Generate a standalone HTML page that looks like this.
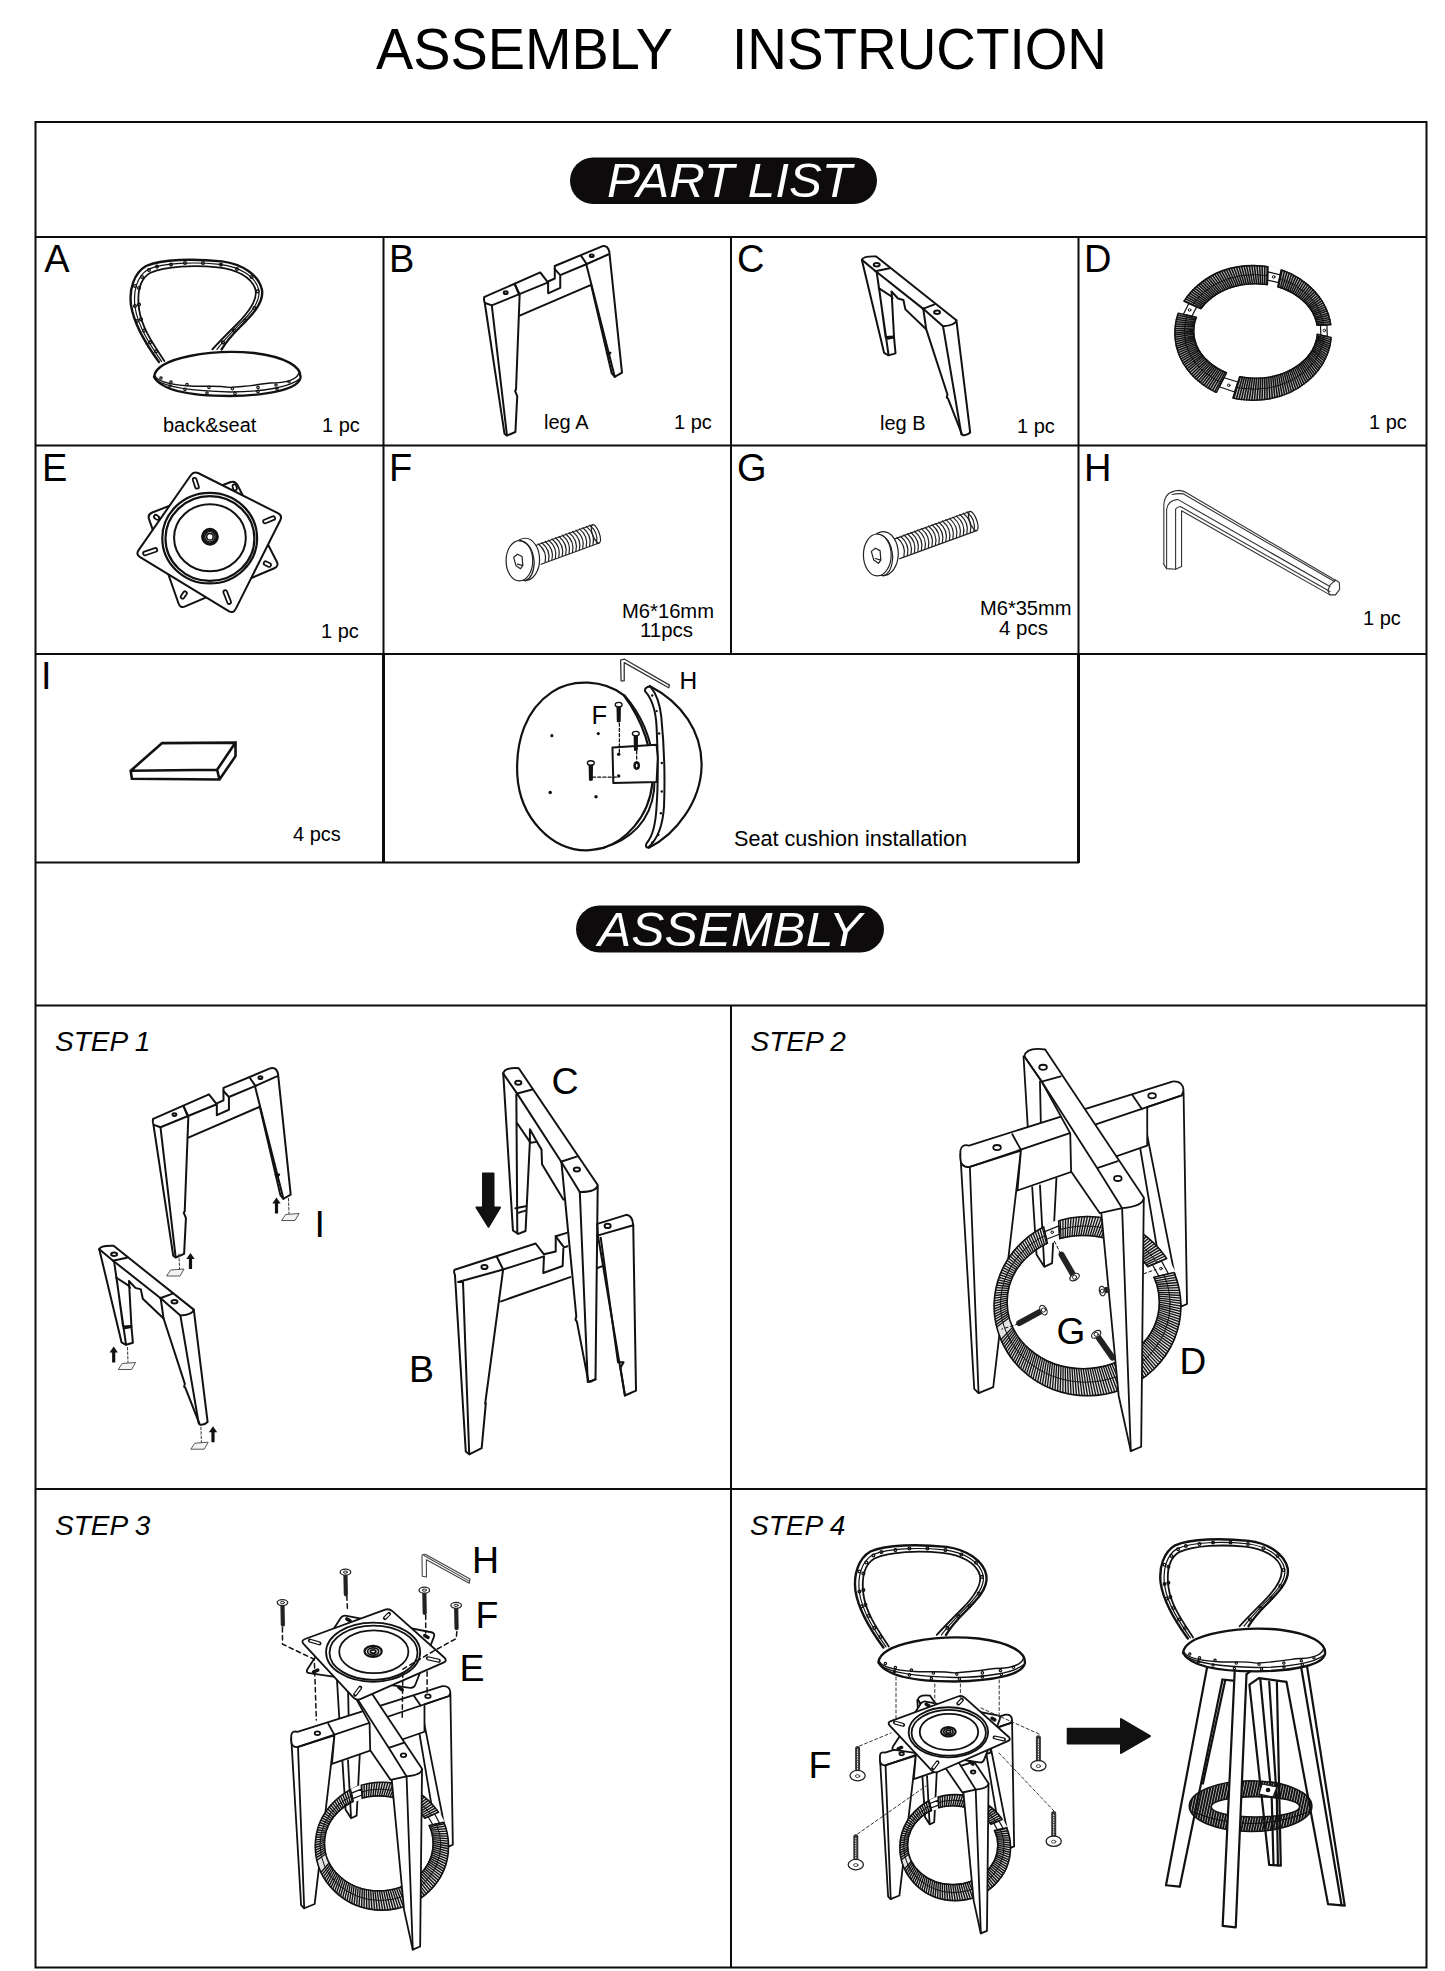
<!DOCTYPE html>
<html><head><meta charset="utf-8"><title>Assembly Instruction</title>
<style>
html,body{margin:0;padding:0;background:#fff;}
body{width:1445px;height:1971px;overflow:hidden;position:relative;}
svg{position:absolute;left:0;top:0;}
text{font-family:"Liberation Sans",sans-serif;fill:#000;}
.it{font-style:italic;}
.ln{stroke:#111;fill:none;stroke-linejoin:round;stroke-linecap:round;}
.ln *{vector-effect:non-scaling-stroke;}
</style></head>
<body>
<svg width="1445" height="1971" viewBox="0 0 1445 1971">
<!-- GRID -->
<g id="grid" stroke="#0d0b0c" stroke-width="2" fill="none">
<rect x="35.5" y="122" width="1391" height="1845.5"/>
<line x1="35" y1="237" x2="1427" y2="237"/>
<line x1="35" y1="445.5" x2="1427" y2="445.5"/>
<line x1="35" y1="654" x2="1427" y2="654"/>
<line x1="35" y1="862.5" x2="1079" y2="862.5"/>
<line x1="35" y1="1005.5" x2="1427" y2="1005.5"/>
<line x1="35" y1="1489" x2="1427" y2="1489"/>
<line x1="383.5" y1="237" x2="383.5" y2="654"/>
<line x1="383.5" y1="654" x2="383.5" y2="863" stroke-width="3"/>
<line x1="731" y1="237" x2="731" y2="654"/>
<line x1="1078.5" y1="237" x2="1078.5" y2="654"/>
<line x1="1078.5" y1="654" x2="1078.5" y2="863" stroke-width="3"/>
<line x1="731" y1="1005" x2="731" y2="1968"/>
</g>

<!-- TITLE -->
<text x="376" y="68.5" font-size="57.5" textLength="297" lengthAdjust="spacingAndGlyphs">ASSEMBLY</text>
<text x="732" y="68.5" font-size="57.5" textLength="375" lengthAdjust="spacingAndGlyphs">INSTRUCTION</text>

<!-- PILLS -->
<rect x="570" y="157.5" width="307" height="46.5" rx="23.25" fill="#0d0b0b"/>
<text class="it" x="607" y="197" font-size="48" fill="#fff" style="fill:#fff" textLength="245" lengthAdjust="spacingAndGlyphs">PART LIST</text>
<rect x="576" y="905.5" width="308" height="47" rx="23.5" fill="#0d0b0b"/>
<text class="it" x="598" y="945.5" font-size="48" style="fill:#fff" textLength="264" lengthAdjust="spacingAndGlyphs">ASSEMBLY</text>

<!-- PART LETTERS -->
<g font-size="38">
<text x="44.3" y="271.5">A</text>
<text x="389" y="271.5">B</text>
<text x="737" y="271.5">C</text>
<text x="1084" y="271.5">D</text>
<text x="42" y="480.5">E</text>
<text x="389" y="480.5">F</text>
<text x="737" y="480.5">G</text>
<text x="1084" y="480.5">H</text>
<text x="41" y="689">I</text>
</g>
<!-- PART CAPTIONS -->
<g font-size="20">
<text x="163" y="432">back&amp;seat</text>
<text x="322" y="432">1 pc</text>
<text x="544" y="428.5">leg A</text>
<text x="674" y="429">1 pc</text>
<text x="880" y="429.5">leg B</text>
<text x="1017" y="433">1 pc</text>
<text x="1369" y="429">1 pc</text>
<text x="321" y="638">1 pc</text>
<text x="1363" y="625">1 pc</text>
<text x="293" y="840.5">4 pcs</text>
<text x="622" y="618" textLength="92" lengthAdjust="spacingAndGlyphs">M6*16mm</text>
<text x="640" y="637" textLength="53" lengthAdjust="spacingAndGlyphs">11pcs</text>
<text x="980" y="615" textLength="91.5" lengthAdjust="spacingAndGlyphs">M6*35mm</text>
<text x="999" y="635" textLength="49" lengthAdjust="spacingAndGlyphs">4 pcs</text>
</g>
<text x="734" y="845.5" font-size="21.5" textLength="233" lengthAdjust="spacingAndGlyphs">Seat cushion installation</text>

<!-- STEP LABELS -->
<g class="it" font-size="28">
<text x="55" y="1050.5">STEP 1</text>
<text x="750.5" y="1050.5">STEP 2</text>
<text x="55" y="1535">STEP 3</text>
<text x="750" y="1535">STEP 4</text>
</g>

<!-- DRAWING LABELS -->
<g>
<text x="591.5" y="724" font-size="25.5">F</text>
<text x="679.5" y="688.5" font-size="24.5">H</text>
<text x="551.5" y="1093.5" font-size="37.5">C</text>
<text x="409" y="1381.5" font-size="37.5">B</text>
<text x="314.5" y="1236.5" font-size="37.5">I</text>
<text x="1056.5" y="1344" font-size="37">G</text>
<text x="1179.5" y="1373.5" font-size="37">D</text>
<text x="472" y="1572.5" font-size="37.5">H</text>
<text x="475.5" y="1628" font-size="37.5">F</text>
<text x="459.5" y="1680.5" font-size="37.5">E</text>
<text x="808.5" y="1777.5" font-size="37.5">F</text>
</g>
<!-- DRAWINGS -->
<g id="drawings" class="ln" stroke-width="2">

<g id="legB" transform="translate(850,250) scale(0.09894)">
<path d="M120,100 Q130,60 265,65 L1075,710 Q1070,760 940,770 L1125,1860"/>
<path d="M120,100 L345,1040 L390,1065 L460,1045 L445,880 L420,420 L485,490 L540,505 L560,600 L770,800 L985,1460 L978,1490 L990,1500 L1135,1870 Q1180,1880 1215,1845 L1075,710"/>
<path d="M120,100 L260,215 L740,595 L940,770"/>
<path d="M255,215 L400,185 M735,595 L855,550"/>
<path d="M270,225 L390,1062 M295,390 L360,880 L445,875 M365,900 L445,885"/>
<path d="M740,590 L770,800 M290,385 L420,470 M420,470 L430,490"/>
<ellipse cx="270" cy="150" rx="30" ry="18"/>
<ellipse cx="880" cy="630" rx="30" ry="18"/>
</g>

<g id="seatA" transform="translate(110,245) scale(0.2)">
<path stroke-width="2.4" d="M245,585 C190,510 120,400 105,300 C95,220 120,140 180,105 C260,70 420,68 560,82 C660,95 745,150 760,225 C770,290 710,350 650,410 C610,450 580,485 558,522"/>
<path stroke-width="1.8" d="M272,580 C220,500 160,420 145,320 C135,240 150,170 200,140 C280,105 420,100 540,112 C630,122 710,160 728,225 C738,280 690,340 635,395 C590,440 540,490 512,522"/>
<path stroke-width="1.2" d="M258,582 C205,505 140,410 125,310 C115,230 135,155 190,122 C270,88 420,84 550,97 C645,108 728,155 744,225 C754,285 700,345 642,402 C600,445 560,488 535,522"/>
<g stroke-width="1.3">
<circle cx="160" cy="160" r="7"/><circle cx="195" cy="125" r="7"/><circle cx="235" cy="108" r="7"/><circle cx="305" cy="98" r="7"/><circle cx="375" cy="90" r="7"/><circle cx="465" cy="90" r="7"/><circle cx="555" cy="98" r="7"/><circle cx="635" cy="120" r="7"/><circle cx="708" cy="160" r="7"/><circle cx="738" cy="232" r="7"/><circle cx="722" cy="315" r="7"/><circle cx="675" cy="378" r="7"/><circle cx="620" cy="428" r="7"/><circle cx="565" cy="487" r="7"/>
<circle cx="125" cy="205" r="7"/><circle cx="145" cy="215" r="7"/><circle cx="125" cy="305" r="7"/><circle cx="145" cy="298" r="7"/><circle cx="135" cy="380" r="7"/><circle cx="155" cy="372" r="7"/><circle cx="170" cy="428" r="7"/><circle cx="200" cy="487" r="7"/><circle cx="230" cy="532" r="7"/>
</g>
<path stroke-width="2.4" d="M220,660 C230,560 520,520 720,540 C880,560 960,610 952,665 C940,720 800,752 600,755 C400,755 260,730 220,660 Z"/>
<path stroke-width="1.4" d="M225,655 C240,690 330,700 400,705 C470,710 520,700 600,712 C680,708 730,700 800,690 C870,690 930,680 945,640"/>
<path stroke-width="1.4" d="M230,675 C280,710 400,730 600,735 C760,735 900,710 948,670"/>
<g stroke-width="1.2">
<circle cx="255" cy="665" r="6"/><circle cx="305" cy="685" r="6"/><circle cx="385" cy="698" r="6"/><circle cx="495" cy="712" r="6"/><circle cx="612" cy="718" r="6"/><circle cx="740" cy="712" r="6"/><circle cx="830" cy="700" r="6"/><circle cx="895" cy="684" r="6"/>
<circle cx="300" cy="705" r="6"/><circle cx="375" cy="722" r="6"/><circle cx="485" cy="740" r="6"/><circle cx="625" cy="742" r="6"/><circle cx="740" cy="732" r="6"/><circle cx="835" cy="720" r="6"/>
</g>
</g>

<g id="legA" transform="translate(470,240) scale(0.12111)">
<path d="M120,470 L580,268 L640,345 L700,318 L700,215 L1090,52 Q1135,40 1150,95 L1255,1095 L1195,1130 L960,200 L1140,120"/>
<path d="M120,470 Q110,490 122,520 L285,1600 L305,1615 L375,1585 L390,1290 L372,1245 L380,1235 L410,450 L370,365"/>
<path d="M125,520 L180,540 L305,1612"/>
<path d="M180,540 L645,350 M645,345 L645,440 L745,395 L745,290 L700,240 M745,290 L960,200"/>
<path d="M410,625 L1000,370 L1170,1100 L1195,1130"/>
<path d="M920,135 L965,200 M370,365 L405,450"/>
<path d="M1130,930 L1160,930 L1145,950 Z"/>
<ellipse cx="295" cy="435" rx="16" ry="11"/>
<ellipse cx="1005" cy="130" rx="16" ry="11"/>
</g>
<g>
<path fill="#c4c4c4" fill-rule="evenodd" stroke="none" d="M1174.9,332.9 a78.2,67.3 0 1,0 156.4,0 a78.2,67.3 0 1,0 -156.4,0 Z M1193.7,331.0 a61.9,47.3 0 1,0 123.8,0 a61.9,47.3 0 1,0 -123.8,0 Z"/>
<path stroke="#111" stroke-width="1.5" fill="none" d="M1330.9,339.6 L1317.2,335.7 M1330.6,341.8 L1317.0,337.2 M1330.2,344.0 L1316.7,338.8 M1329.8,346.2 L1316.3,340.3 M1329.2,348.3 L1315.8,341.9 M1328.6,350.5 L1315.3,343.4 M1327.9,352.6 L1314.8,344.9 M1327.1,354.8 L1314.1,346.4 M1326.2,356.8 L1313.4,347.8 M1325.2,358.9 L1312.7,349.3 M1324.2,360.9 L1311.9,350.7 M1323.1,363.0 L1311.0,352.1 M1321.9,364.9 L1310.0,353.5 M1320.6,366.9 L1309.0,354.9 M1319.3,368.8 L1308.0,356.2 M1317.9,370.6 L1306.9,357.5 M1316.4,372.5 L1305.7,358.8 M1314.8,374.2 L1304.4,360.1 M1313.2,376.0 L1303.2,361.3 M1311.5,377.7 L1301.8,362.5 M1309.8,379.3 L1300.4,363.6 M1307.9,380.9 L1299.0,364.7 M1306.1,382.4 L1297.5,365.8 M1304.1,383.9 L1296.0,366.8 M1302.1,385.3 L1294.4,367.8 M1300.1,386.7 L1292.8,368.8 M1298.0,388.0 L1291.2,369.7 M1295.9,389.2 L1289.5,370.6 M1293.7,390.4 L1287.7,371.4 M1291.5,391.6 L1286.0,372.2 M1289.2,392.6 L1284.2,373.0 M1286.9,393.6 L1282.3,373.7 M1284.5,394.5 L1280.5,374.3 M1282.1,395.4 L1278.6,374.9 M1279.7,396.2 L1276.7,375.5 M1277.3,396.9 L1274.7,376.0 M1274.8,397.6 L1272.8,376.4 M1272.3,398.1 L1270.8,376.9 M1269.8,398.7 L1268.8,377.2 M1267.2,399.1 L1266.8,377.5 M1264.7,399.5 L1264.8,377.8 M1262.1,399.7 L1262.7,378.0 M1259.6,400.0 L1260.7,378.1 M1257.0,400.1 L1258.7,378.2 M1254.4,400.2 L1256.6,378.3 M1251.8,400.2 L1254.6,378.3 M1249.2,400.1 L1252.5,378.2 M1246.6,400.0 L1250.5,378.1 M1244.1,399.7 L1248.5,378.0 M1241.5,399.5 L1246.4,377.8 M1239.0,399.1 L1244.4,377.5 M1236.4,398.7 L1242.4,377.2 M1233.9,398.1 L1240.4,376.9 M1214.7,391.6 L1225.2,372.2 M1212.5,390.4 L1223.5,371.4 M1210.3,389.2 L1221.7,370.6 M1208.2,388.0 L1220.0,369.7 M1206.1,386.7 L1218.4,368.8 M1204.1,385.3 L1216.8,367.8 M1202.1,383.9 L1215.2,366.8 M1200.1,382.4 L1213.7,365.8 M1198.3,380.9 L1212.2,364.7 M1196.4,379.3 L1210.8,363.6 M1194.7,377.7 L1209.4,362.5 M1193.0,376.0 L1208.0,361.3 M1191.4,374.2 L1206.8,360.1 M1189.8,372.5 L1205.5,358.8 M1188.3,370.6 L1204.3,357.5 M1186.9,368.8 L1203.2,356.2 M1185.6,366.9 L1202.2,354.9 M1184.3,364.9 L1201.2,353.5 M1183.1,363.0 L1200.2,352.1 M1182.0,360.9 L1199.3,350.7 M1181.0,358.9 L1198.5,349.3 M1180.0,356.8 L1197.8,347.8 M1179.1,354.8 L1197.1,346.4 M1178.3,352.6 L1196.4,344.9 M1177.6,350.5 L1195.9,343.4 M1177.0,348.3 L1195.4,341.9 M1176.4,346.2 L1194.9,340.3 M1176.0,344.0 L1194.5,338.8 M1175.6,341.8 L1194.2,337.2 M1175.3,339.6 L1194.0,335.7 M1175.1,337.3 L1193.8,334.1 M1174.9,335.1 L1193.7,332.6 M1174.9,332.9 L1193.7,331.0 M1174.9,330.7 L1193.7,329.4 M1175.1,328.5 L1193.8,327.9 M1175.3,326.2 L1194.0,326.3 M1175.6,324.0 L1194.2,324.8 M1176.0,321.8 L1194.5,323.2 M1176.4,319.6 L1194.9,321.7 M1177.0,317.5 L1195.4,320.1 M1177.6,315.3 L1195.9,318.6 M1184.3,300.9 L1201.2,308.5 M1185.6,298.9 L1202.2,307.1 M1186.9,297.0 L1203.2,305.8 M1188.3,295.2 L1204.3,304.5 M1189.8,293.3 L1205.5,303.2 M1191.4,291.6 L1206.8,301.9 M1193.0,289.8 L1208.0,300.7 M1194.7,288.1 L1209.4,299.5 M1196.4,286.5 L1210.8,298.4 M1198.3,284.9 L1212.2,297.3 M1200.1,283.4 L1213.7,296.2 M1202.1,281.9 L1215.2,295.2 M1204.1,280.5 L1216.8,294.2 M1206.1,279.1 L1218.4,293.2 M1208.2,277.8 L1220.0,292.3 M1210.3,276.6 L1221.7,291.4 M1212.5,275.4 L1223.5,290.6 M1214.7,274.2 L1225.2,289.8 M1217.0,273.2 L1227.0,289.0 M1219.3,272.2 L1228.9,288.3 M1221.7,271.3 L1230.7,287.7 M1224.1,270.4 L1232.6,287.1 M1226.5,269.6 L1234.5,286.5 M1228.9,268.9 L1236.5,286.0 M1231.4,268.2 L1238.4,285.6 M1233.9,267.7 L1240.4,285.1 M1236.4,267.1 L1242.4,284.8 M1239.0,266.7 L1244.4,284.5 M1241.5,266.3 L1246.4,284.2 M1244.1,266.1 L1248.5,284.0 M1246.6,265.8 L1250.5,283.9 M1249.2,265.7 L1252.5,283.8 M1251.8,265.6 L1254.6,283.7 M1254.4,265.6 L1256.6,283.7 M1257.0,265.7 L1258.7,283.8 M1259.6,265.8 L1260.7,283.9 M1262.1,266.1 L1262.7,284.0 M1264.7,266.3 L1264.8,284.2 M1267.2,266.7 L1266.8,284.5 M1282.1,270.4 L1278.6,287.1 M1284.5,271.3 L1280.5,287.7 M1286.9,272.2 L1282.3,288.3 M1289.2,273.2 L1284.2,289.0 M1291.5,274.2 L1286.0,289.8 M1293.7,275.4 L1287.7,290.6 M1295.9,276.6 L1289.5,291.4 M1298.0,277.8 L1291.2,292.3 M1300.1,279.1 L1292.8,293.2 M1302.1,280.5 L1294.4,294.2 M1304.1,281.9 L1296.0,295.2 M1306.1,283.4 L1297.5,296.2 M1307.9,284.9 L1299.0,297.3 M1309.8,286.5 L1300.4,298.4 M1311.5,288.1 L1301.8,299.5 M1313.2,289.8 L1303.2,300.7 M1314.8,291.6 L1304.4,301.9 M1316.4,293.3 L1305.7,303.2 M1317.9,295.2 L1306.9,304.5 M1319.3,297.0 L1308.0,305.8 M1320.6,298.9 L1309.0,307.1 M1321.9,300.9 L1310.0,308.5 M1323.1,302.8 L1311.0,309.9 M1324.2,304.9 L1311.9,311.3 M1325.2,306.9 L1312.7,312.7 M1326.2,309.0 L1313.4,314.2 M1327.1,311.0 L1314.1,315.6 M1327.9,313.2 L1314.8,317.1 M1328.6,315.3 L1315.3,318.6 M1329.2,317.5 L1315.8,320.1 M1329.8,319.6 L1316.3,321.7 M1330.2,321.8 L1316.7,323.2 M1330.6,324.0 L1317.0,324.8"/>
<ellipse cx="1253.1" cy="332.9" rx="78.2" ry="67.3" stroke="#111" stroke-width="1.6" fill="none"/>
<ellipse cx="1255.6" cy="331.0" rx="61.9" ry="47.3" stroke="#111" stroke-width="1.6" fill="none"/>
<ellipse cx="1254.3" cy="331.9" rx="70.0" ry="57.3" stroke="#111" stroke-width="1" fill="none"/>
<path fill="#fff" stroke="none" d="M1268.1,265.4 L1281.4,268.7 L1277.5,288.2 L1267.4,286.0 Z"/>
<path fill="#fff" stroke="#111" stroke-width="1.2" d="M1267.9,271.8 L1280.2,274.8 L1278.6,282.6 L1267.6,280.1 Z"/>
<path stroke="#111" stroke-width="1.5" d="M1268.0,266.8 L1267.4,284.6"/>
<path stroke="#111" stroke-width="1.5" d="M1281.1,270.1 L1277.8,286.8"/>
<circle cx="1273.7" cy="276.9" r="1.3" stroke="#111" stroke-width="1" fill="none"/>
<path fill="#fff" stroke="none" d="M1176.9,312.9 L1182.7,300.7 L1202.3,309.4 L1197.9,317.5 Z"/>
<path fill="#fff" stroke="#111" stroke-width="1.2" d="M1183.4,314.3 L1188.8,303.4 L1196.7,306.9 L1191.9,316.2 Z"/>
<path stroke="#111" stroke-width="1.5" d="M1178.3,313.2 L1196.4,317.2"/>
<path stroke="#111" stroke-width="1.5" d="M1184.1,301.3 L1200.9,308.8"/>
<circle cx="1189.6" cy="310.0" r="1.3" stroke="#111" stroke-width="1" fill="none"/>
<path fill="#fff" stroke="none" d="M1331.8,324.7 L1332.2,337.9 L1316.2,334.0 L1315.9,325.3 Z"/>
<path fill="#fff" stroke="#111" stroke-width="1.2" d="M1326.9,324.8 L1327.3,336.7 L1320.8,335.1 L1320.5,325.1 Z"/>
<path stroke="#111" stroke-width="1.5" d="M1330.7,324.7 L1317.0,325.2"/>
<path stroke="#111" stroke-width="1.5" d="M1331.1,337.6 L1317.3,334.3"/>
<circle cx="1324.4" cy="330.5" r="1.3" stroke="#111" stroke-width="1" fill="none"/>
<path fill="#fff" stroke="none" d="M1232.3,399.6 L1215.6,393.9 L1227.4,371.2 L1240.1,375.0 Z"/>
<path fill="#fff" stroke="#111" stroke-width="1.2" d="M1234.7,392.0 L1219.2,386.8 L1224.0,377.7 L1237.9,382.0 Z"/>
<path stroke="#111" stroke-width="1.5" d="M1232.9,397.9 L1239.6,376.7"/>
<path stroke="#111" stroke-width="1.5" d="M1216.4,392.3 L1226.5,372.8"/>
<circle cx="1228.7" cy="385.3" r="1.3" stroke="#111" stroke-width="1" fill="none"/>
</g>
<g transform="translate(125,465) scale(0.11765)">
<path fill="#fff" stroke="#111" stroke-width="2" d="M893.1,146.3 Q935.0,130.0 955.6,170.0 L1289.4,820.0 Q1310.0,860.0 1268.6,877.7 L511.4,1202.3 Q470.0,1220.0 455.1,1177.5 L204.9,462.5 Q190.0,420.0 231.9,403.7 Z"/>
<path stroke="#111" stroke-width="5.5" d="M930,180 L935,200"/><path stroke="#fff" stroke-width="2" d="M930,180 L935,200"/>
<path stroke="#111" stroke-width="5.5" d="M262,440 L275,450"/><path stroke="#fff" stroke-width="2" d="M262,440 L275,450"/>
<path stroke="#111" stroke-width="5.5" d="M1195,835 L1225,850"/><path stroke="#fff" stroke-width="2" d="M1195,835 L1225,850"/>
<path stroke="#111" stroke-width="5.5" d="M490,1120 L510,1090"/><path stroke="#fff" stroke-width="2" d="M490,1120 L510,1090"/>
<path fill="#fff" stroke="#111" stroke-width="2" d="M559.3,86.9 Q585.0,50.0 625.2,70.2 L1299.8,409.8 Q1340.0,430.0 1319.8,470.2 L940.2,1224.8 Q920.0,1265.0 881.6,1241.6 L128.4,783.4 Q90.0,760.0 115.7,723.1 Z"/>
<path stroke="#111" stroke-width="5.5" d="M592,125 L612,185"/><path stroke="#fff" stroke-width="2" d="M592,125 L612,185"/>
<path stroke="#111" stroke-width="5.5" d="M1190,480 L1260,452"/><path stroke="#fff" stroke-width="2" d="M1190,480 L1260,452"/>
<path stroke="#111" stroke-width="5.5" d="M170,752 L258,722"/><path stroke="#fff" stroke-width="2" d="M170,752 L258,722"/>
<path stroke="#111" stroke-width="5.5" d="M852,1080 L885,1165"/><path stroke="#fff" stroke-width="2" d="M852,1080 L885,1165"/>
<ellipse cx="720" cy="622" rx="403" ry="385" fill="#fff" stroke="#111" stroke-width="2.2"/>
<ellipse cx="722" cy="625" rx="378" ry="360" fill="none" stroke="#111" stroke-width="2.2"/>
<ellipse cx="722" cy="618" rx="305" ry="285" fill="none" stroke="#111" stroke-width="2"/>
<circle cx="722" cy="610" r="62" fill="none" stroke="#111" stroke-width="3.2"/>
<circle cx="722" cy="610" r="44" fill="none" stroke="#111" stroke-width="1.5"/>
<circle cx="722" cy="610" r="28" fill="none" stroke="#111" stroke-width="1.5"/>
</g>
<g transform="translate(500,520) scale(0.07612)" stroke="#222" fill="none">
<path stroke-width="1.2" d="M539,582 L1304,302 M451,342 L1216,62"/>
<ellipse cx="1260" cy="182" rx="45" ry="128" transform="rotate(-20.1 1260 182)" stroke-width="1.2"/>
<path stroke-width="1.2" d="M592,555 Q625,415 504,315"/>
<path stroke-width="1.2" d="M637,539 Q670,398 549,299"/>
<path stroke-width="1.2" d="M682,522 Q715,382 594,282"/>
<path stroke-width="1.2" d="M727,506 Q760,365 639,266"/>
<path stroke-width="1.2" d="M772,490 Q805,349 684,249"/>
<path stroke-width="1.2" d="M817,473 Q850,332 729,233"/>
<path stroke-width="1.2" d="M862,457 Q895,316 774,216"/>
<path stroke-width="1.2" d="M907,440 Q940,299 819,200"/>
<path stroke-width="1.2" d="M952,424 Q985,283 864,183"/>
<path stroke-width="1.2" d="M997,407 Q1030,266 909,167"/>
<path stroke-width="1.2" d="M1042,391 Q1075,250 954,150"/>
<path stroke-width="1.2" d="M1087,374 Q1120,233 999,134"/>
<path stroke-width="1.2" d="M1132,358 Q1165,217 1044,117"/>
<path stroke-width="1.2" d="M1177,341 Q1210,200 1089,101"/>
<path stroke-width="1.2" d="M1222,325 Q1255,184 1134,84"/>
<path stroke-width="1.2" d="M1267,308 Q1300,168 1179,68"/>
<ellipse cx="330" cy="518" rx="190" ry="278" fill="#fff" stroke-width="1.2"/>
<ellipse cx="255" cy="535" rx="175" ry="265" fill="#fff" stroke-width="1.2"/>
<path stroke-width="1.2" d="M260,270 Q430,300 450,560 Q440,760 330,800"/>
<path stroke-width="1.2" d="M180,490 L230,450 L290,480 L300,600 L270,640 L210,600 Z M230,580 L300,600"/>
</g>
<g transform="translate(857.1,512.6) scale(0.07917)" stroke="#222" fill="none">
<path stroke-width="1.2" d="M539,582 L1511,227 M451,342 L1423,-14"/>
<ellipse cx="1467" cy="106" rx="45" ry="128" transform="rotate(-20.1 1467 106)" stroke-width="1.2"/>
<path stroke-width="1.2" d="M591,556 Q624,415 503,315"/>
<path stroke-width="1.2" d="M635,540 Q668,399 547,299"/>
<path stroke-width="1.2" d="M680,523 Q712,383 592,283"/>
<path stroke-width="1.2" d="M724,507 Q756,366 636,267"/>
<path stroke-width="1.2" d="M768,491 Q800,350 680,251"/>
<path stroke-width="1.2" d="M812,475 Q844,334 724,235"/>
<path stroke-width="1.2" d="M856,459 Q889,318 768,218"/>
<path stroke-width="1.2" d="M900,443 Q933,302 812,202"/>
<path stroke-width="1.2" d="M945,426 Q977,286 857,186"/>
<path stroke-width="1.2" d="M989,410 Q1021,269 901,170"/>
<path stroke-width="1.2" d="M1033,394 Q1065,253 945,154"/>
<path stroke-width="1.2" d="M1077,378 Q1109,237 989,138"/>
<path stroke-width="1.2" d="M1121,362 Q1154,221 1033,121"/>
<path stroke-width="1.2" d="M1165,346 Q1198,205 1077,105"/>
<path stroke-width="1.2" d="M1210,329 Q1242,189 1122,89"/>
<path stroke-width="1.2" d="M1254,313 Q1286,172 1166,73"/>
<path stroke-width="1.2" d="M1298,297 Q1330,156 1210,57"/>
<path stroke-width="1.2" d="M1342,281 Q1374,140 1254,41"/>
<path stroke-width="1.2" d="M1386,265 Q1419,124 1298,24"/>
<path stroke-width="1.2" d="M1430,249 Q1463,108 1342,8"/>
<path stroke-width="1.2" d="M1475,232 Q1507,92 1387,-8"/>
<ellipse cx="330" cy="518" rx="190" ry="278" fill="#fff" stroke-width="1.2"/>
<ellipse cx="255" cy="535" rx="175" ry="265" fill="#fff" stroke-width="1.2"/>
<path stroke-width="1.2" d="M260,270 Q430,300 450,560 Q440,760 330,800"/>
<path stroke-width="1.2" d="M180,490 L230,450 L290,480 L300,600 L270,640 L210,600 Z M230,580 L300,600"/>
</g>
<g transform="translate(1150,480) scale(0.13841)" stroke="#333" fill="none" stroke-width="1.1">
<path d="M100,610 L100,180 Q105,80 210,75 Q240,78 260,90 L1340,725"/>
<path d="M120,640 L120,215 Q125,150 200,140 L1300,770"/>
<path d="M185,645 L185,210 Q195,195 220,192 L1300,805"/>
<path d="M228,625 L228,222 L1300,830"/>
<path d="M160,105 Q200,95 240,100 L1335,735"/>
<path d="M100,610 L120,640 L185,645 L228,625"/>
<path d="M1300,760 L1340,722 L1368,740 L1370,790 L1340,830 L1300,830 L1285,800 Z"/>
</g>
<path stroke="#111" stroke-width="2.6" fill="none" stroke-linejoin="miter" d="M162.1,743.1 L235.5,742.6 L235.5,756.2 L219.5,779.5 L131.9,778.7 L130.7,770.7 Z M130.7,770.7 L217.1,769.8 L235.5,742.6 M217.1,769.8 L219.5,779.5"/>
<g transform="translate(500,654) scale(0.17301)" stroke="#111" fill="none">
<path stroke-width="2.2" d="M715,238 C600,150 420,140 300,220 C150,320 90,500 100,700 C115,950 300,1135 500,1135 C540,1133 575,1125 600,1120"/>
<path stroke-width="2.2" d="M715,238 C820,380 890,560 880,750 C860,950 720,1080 600,1120"/>
<path stroke-width="2" d="M720,240 C850,390 905,580 890,790 C870,960 760,1075 590,1122"/>
<path stroke-width="2.2" d="M865,185 C1050,280 1170,450 1165,650 C1160,850 1020,1040 860,1120"/>
<path stroke-width="2" d="M870,190 C905,230 925,300 932,360 C948,520 955,700 948,880 C942,980 920,1060 860,1115 C845,1125 838,1110 850,1090 C885,1050 900,980 905,880 C915,740 912,560 905,420 C900,320 870,250 838,215 C835,200 850,185 870,190 Z"/>
<path fill="#fff" stroke-width="2" d="M650,540 L905,525 L912,600 L905,740 L655,745 Z"/>
<g stroke-width="1.3" stroke-dasharray="3 2.2"><path d="M690,400 L690,575 M790,560 L790,630 M535,712 L680,712"/></g>
<ellipse cx="686" cy="293" rx="20" ry="13" fill="#fff" stroke-width="1.3"/><path stroke-width="1.3" d="M677,303 L679,390 M695,303 L693,390"/><path stroke-width="3.25" d="M686,313 L686,386"/><ellipse cx="785" cy="460" rx="20" ry="13" fill="#fff" stroke-width="1.3"/><path stroke-width="1.3" d="M776,470 L778,555 M794,470 L792,555"/><path stroke-width="3.25" d="M785,480 L785,551"/><ellipse cx="525" cy="630" rx="20" ry="13" fill="#fff" stroke-width="1.3"/><path stroke-width="1.3" d="M516,640 L518,728 M534,640 L532,728"/><path stroke-width="3.25" d="M525,650 L525,724"/>
<g fill="#111" stroke="none"><circle cx="300" cy="472" r="9"/><circle cx="568" cy="460" r="9"/><circle cx="290" cy="800" r="10"/><circle cx="555" cy="825" r="10"/><circle cx="686" cy="580" r="10"/><circle cx="686" cy="705" r="10"/>
<circle cx="880" cy="240" r="7"/><circle cx="905" cy="330" r="7"/><circle cx="920" cy="460" r="7"/><circle cx="935" cy="630" r="7"/><circle cx="935" cy="795" r="7"/><circle cx="930" cy="920" r="7"/><circle cx="915" cy="1045" r="7"/><circle cx="880" cy="1090" r="7"/></g>
<ellipse cx="790" cy="645" rx="12" ry="18" stroke-width="2.5"/>
<path stroke-width="1.3" stroke="#333" d="M700,155 L697,35 L720,30 L980,180 L975,195 L718,50 L718,155 Z"/>
</g>
<use href="#legA" transform="translate(-331.3,821.9)"/>
<use href="#legB" transform="translate(-762.6,989.4)"/>
<path stroke="#555" stroke-width="1" fill="#f4f4f4" d="M286.0,1214.5 L299.0,1213.5 L295.0,1220.5 L282.0,1220.5 Z"/>
<path stroke="#333" stroke-width="1" stroke-dasharray="2.5 2" d="M288.5,1198.5 L289.0,1213.5"/>
<path fill="#111" stroke="none" d="M276.5,1197.5 L280.7,1203.5 L278.1,1203.5 L278.1,1213.5 L274.9,1213.5 L274.9,1203.5 L272.3,1203.5 Z"/>
<path stroke="#555" stroke-width="1" fill="#f4f4f4" d="M171.0,1270.0 L184.0,1269.0 L180.0,1276.0 L167.0,1276.0 Z"/>
<path stroke="#333" stroke-width="1" stroke-dasharray="2.5 2" d="M179.0,1254.0 L179.5,1269.0"/>
<path fill="#111" stroke="none" d="M190.5,1253.0 L194.7,1259.0 L192.1,1259.0 L192.1,1269.0 L188.9,1269.0 L188.9,1259.0 L186.3,1259.0 Z"/>
<path stroke="#555" stroke-width="1" fill="#f4f4f4" d="M122.6,1363.5 L135.6,1362.5 L131.6,1369.5 L118.6,1369.5 Z"/>
<path stroke="#333" stroke-width="1" stroke-dasharray="2.5 2" d="M127.5,1347.5 L128.0,1362.5"/>
<path fill="#111" stroke="none" d="M113.7,1346.5 L117.9,1352.5 L115.3,1352.5 L115.3,1362.5 L112.1,1362.5 L112.1,1352.5 L109.5,1352.5 Z"/>
<path stroke="#555" stroke-width="1" fill="#f4f4f4" d="M195.2,1443.2 L208.2,1442.2 L204.2,1449.2 L191.2,1449.2 Z"/>
<path stroke="#333" stroke-width="1" stroke-dasharray="2.5 2" d="M200.9,1427.2 L201.4,1442.2"/>
<path fill="#111" stroke="none" d="M213.0,1426.2 L217.2,1432.2 L214.6,1432.2 L214.6,1442.2 L211.4,1442.2 L211.4,1432.2 L208.8,1432.2 Z"/>
<path fill="#111" d="M483,1173.5 L493.5,1173.5 L493.5,1207.4 L500,1207.4 L488.5,1226.8 L476.5,1207.4 L483,1207.4 Z"/>
<g transform="translate(445,1210) scale(0.13841)" stroke="#111" fill="#fff">
<path d="M1100,100 L1310,35 Q1355,40 1360,110 L1380,1305 L1300,1340 L1105,185 Z"/>
<path fill="none" d="M1100,185 L1360,110 M1125,200 L1250,1100 L1290,1100 L1268,1140 L1300,1340 M1100,420 L1150,400"/>
<path fill="none" d="M880,165 L800,190 L800,300 L715,320 L655,242 L70,432 Q60,440 72,470 L150,1745 L175,1765 L265,1720 L295,1395 L290,1400 L420,430 L375,340"/>
<path fill="none" d="M95,520 L130,520 L175,1765 M95,520 L420,430 L715,335 M715,335 L710,455 L850,405 L855,280 M800,190 L860,270 L885,262"/>
<path fill="none" d="M405,660 L905,485"/>
<ellipse fill="none" cx="285" cy="412" rx="22" ry="15"/><ellipse fill="none" cx="1175" cy="115" rx="22" ry="15"/>
</g>
<g transform="translate(480,1060) scale(0.09689)" stroke="#111" fill="none">
<path d="M240,140 Q250,75 400,85 L1215,1290 Q1200,1365 1030,1362 M1215,1290 L1192,3290 L1150,3318 L1119,3321"/>
<path d="M240,140 L340,1760 L395,1795 L470,1765 L480,1560 L515,840 L515,715 L590,850 L635,925 L640,1075 L860,1440"/>
<path d="M240,140 L385,350 L835,1045 L1030,1362"/>
<path d="M385,345 L540,305 M835,1050 L1005,995"/>
<path d="M375,355 L385,1790 M375,640 L515,845 M520,855 L590,845 M365,1530 L470,1510 M385,1580 L470,1555"/>
<path d="M840,1050 L994,2646 L985,2680 L1000,2700 L1119,3321 L1194,3297"/>
<path d="M1030,1362 L1112,3322"/>
<ellipse cx="395" cy="235" rx="32" ry="20"/><ellipse cx="1000" cy="1130" rx="32" ry="20"/>
</g>
<g id="s2back">
<g transform="translate(950,1040) scale(0.17301)" stroke="#111" fill="#fff" stroke-width="1.8">
<path fill="none" d="M425,95 L450,510 M520,240 L525,480 M475,850 L500,1240 L545,1311 L590,1290 L615,800 M520,840 L545,1311"/>
<path d="M1110,400 L1350,300 L1370,1526 L1335,1541 Z"/>
<path fill="none" d="M1100,630 L1230,1400"/>
<path d="M60,660 L410,640 L250,2006 L165,2041 L140,2016 Z"/>
<path fill="none" d="M115,740 L165,2041"/>
</g>
</g>
<path fill="#e2e2e2" fill-rule="evenodd" stroke="none" d="M994.1,1306.1 a93.4,89.6 0 1,0 186.8,0 a93.4,89.6 0 1,0 -186.8,0 Z M1007.1,1302.1 a76.1,66.6 0 1,0 152.2,0 a76.1,66.6 0 1,0 -152.2,0 Z"/>
<path stroke="#111" stroke-width="1.3" fill="none" d="M1180.9,1306.1 L1159.3,1302.1 M1180.9,1308.8 L1159.3,1304.1 M1180.7,1311.4 L1159.2,1306.0 M1180.5,1314.1 L1159.0,1308.0 M1180.2,1316.7 L1158.8,1310.0 M1179.9,1319.3 L1158.5,1311.9 M1179.4,1321.9 L1158.1,1313.9 M1178.9,1324.6 L1157.7,1315.8 M1178.3,1327.1 L1157.2,1317.7 M1177.6,1329.7 L1156.6,1319.7 M1176.8,1332.3 L1156.0,1321.6 M1176.0,1334.8 L1155.3,1323.4 M1175.1,1337.3 L1154.5,1325.3 M1174.1,1339.8 L1153.7,1327.1 M1173.0,1342.2 L1152.8,1328.9 M1171.8,1344.6 L1151.9,1330.7 M1170.6,1347.0 L1150.9,1332.5 M1169.3,1349.4 L1149.8,1334.3 M1167.9,1351.7 L1148.7,1336.0 M1166.5,1353.9 L1147.5,1337.7 M1165.0,1356.2 L1146.3,1339.3 M1163.4,1358.3 L1145.0,1340.9 M1161.7,1360.5 L1143.7,1342.5 M1160.0,1362.6 L1142.3,1344.1 M1158.3,1364.6 L1140.8,1345.6 M1156.4,1366.6 L1139.3,1347.1 M1154.5,1368.5 L1137.8,1348.5 M1152.6,1370.4 L1136.2,1349.9 M1150.5,1372.2 L1134.6,1351.2 M1148.5,1374.0 L1132.9,1352.6 M1146.4,1375.7 L1131.1,1353.8 M1144.2,1377.3 L1129.4,1355.0 M1142.0,1378.9 L1127.6,1356.2 M1139.7,1380.4 L1125.7,1357.3 M1137.4,1381.9 L1123.8,1358.4 M1135.0,1383.2 L1121.9,1359.4 M1132.6,1384.6 L1119.9,1360.4 M1130.1,1385.8 L1117.9,1361.4 M1127.7,1387.0 L1115.9,1362.2 M1125.2,1388.1 L1113.9,1363.0 M1122.6,1389.1 L1111.8,1363.8 M1120.0,1390.1 L1109.7,1364.5 M1117.4,1391.0 L1107.6,1365.2 M1114.8,1391.8 L1105.4,1365.8 M1112.1,1392.5 L1103.3,1366.3 M1109.4,1393.2 L1101.1,1366.8 M1106.7,1393.8 L1098.9,1367.3 M1104.0,1394.3 L1096.7,1367.6 M1101.3,1394.7 L1094.4,1368.0 M1098.5,1395.1 L1092.2,1368.2 M1095.8,1395.3 L1090.0,1368.4 M1093.0,1395.5 L1087.7,1368.6 M1090.3,1395.7 L1085.5,1368.7 M1087.5,1395.7 L1083.2,1368.7 M1084.7,1395.7 L1080.9,1368.7 M1082.0,1395.5 L1078.7,1368.6 M1079.2,1395.3 L1076.4,1368.4 M1076.5,1395.1 L1074.2,1368.2 M1073.7,1394.7 L1072.0,1368.0 M1071.0,1394.3 L1069.7,1367.6 M1068.3,1393.8 L1067.5,1367.3 M1065.6,1393.2 L1065.3,1366.8 M1062.9,1392.5 L1063.1,1366.3 M1060.2,1391.8 L1061.0,1365.8 M1057.6,1391.0 L1058.8,1365.2 M1055.0,1390.1 L1056.7,1364.5 M1052.4,1389.1 L1054.6,1363.8 M1049.8,1388.1 L1052.5,1363.0 M1047.3,1387.0 L1050.5,1362.2 M1044.9,1385.8 L1048.5,1361.4 M1042.4,1384.6 L1046.5,1360.4 M1040.0,1383.2 L1044.5,1359.4 M1037.6,1381.9 L1042.6,1358.4 M1035.3,1380.4 L1040.7,1357.3 M1033.0,1378.9 L1038.8,1356.2 M1030.8,1377.3 L1037.0,1355.0 M1028.6,1375.7 L1035.3,1353.8 M1026.5,1374.0 L1033.5,1352.6 M1024.5,1372.2 L1031.8,1351.2 M1022.4,1370.4 L1030.2,1349.9 M1020.5,1368.5 L1028.6,1348.5 M1018.6,1366.6 L1027.1,1347.1 M1016.7,1364.6 L1025.6,1345.6 M1015.0,1362.6 L1024.1,1344.1 M1013.3,1360.5 L1022.7,1342.5 M1011.6,1358.3 L1021.4,1340.9 M1010.0,1356.2 L1020.1,1339.3 M1008.5,1353.9 L1018.9,1337.7 M1007.1,1351.7 L1017.7,1336.0 M1005.7,1349.4 L1016.6,1334.3 M1004.4,1347.0 L1015.5,1332.5 M1003.2,1344.6 L1014.5,1330.7 M1002.0,1342.2 L1013.6,1328.9 M1000.9,1339.8 L1012.7,1327.1 M996.7,1327.1 L1009.2,1317.7 M996.1,1324.6 L1008.7,1315.8 M995.6,1321.9 L1008.3,1313.9 M995.1,1319.3 L1007.9,1311.9 M994.8,1316.7 L1007.6,1310.0 M994.5,1314.1 L1007.4,1308.0 M994.3,1311.4 L1007.2,1306.0 M994.1,1308.8 L1007.1,1304.1 M994.1,1306.1 L1007.1,1302.1 M994.1,1303.4 L1007.1,1300.1 M994.3,1300.8 L1007.2,1298.2 M994.5,1298.1 L1007.4,1296.2 M994.8,1295.5 L1007.6,1294.2 M995.1,1292.9 L1007.9,1292.3 M995.6,1290.3 L1008.3,1290.3 M996.1,1287.6 L1008.7,1288.4 M996.7,1285.1 L1009.2,1286.5 M997.4,1282.5 L1009.8,1284.5 M998.2,1279.9 L1010.4,1282.6 M999.0,1277.4 L1011.1,1280.8 M999.9,1274.9 L1011.9,1278.9 M1000.9,1272.4 L1012.7,1277.1 M1002.0,1270.0 L1013.6,1275.3 M1003.2,1267.6 L1014.5,1273.5 M1004.4,1265.2 L1015.5,1271.7 M1005.7,1262.8 L1016.6,1269.9 M1007.1,1260.5 L1017.7,1268.2 M1008.5,1258.3 L1018.9,1266.5 M1010.0,1256.0 L1020.1,1264.9 M1011.6,1253.9 L1021.4,1263.3 M1013.3,1251.7 L1022.7,1261.7 M1015.0,1249.6 L1024.1,1260.1 M1016.7,1247.6 L1025.6,1258.6 M1018.6,1245.6 L1027.1,1257.1 M1020.5,1243.7 L1028.6,1255.7 M1022.4,1241.8 L1030.2,1254.3 M1024.5,1240.0 L1031.8,1253.0 M1026.5,1238.2 L1033.5,1251.6 M1028.6,1236.5 L1035.3,1250.4 M1030.8,1234.9 L1037.0,1249.2 M1033.0,1233.3 L1038.8,1248.0 M1035.3,1231.8 L1040.7,1246.9 M1037.6,1230.3 L1042.6,1245.8 M1040.0,1229.0 L1044.5,1244.8 M1042.4,1227.6 L1046.5,1243.8 M1060.2,1220.4 L1061.0,1238.4 M1062.9,1219.7 L1063.1,1237.9 M1065.6,1219.0 L1065.3,1237.4 M1068.3,1218.4 L1067.5,1236.9 M1071.0,1217.9 L1069.7,1236.6 M1073.7,1217.5 L1072.0,1236.2 M1076.5,1217.1 L1074.2,1236.0 M1079.2,1216.9 L1076.4,1235.8 M1082.0,1216.7 L1078.7,1235.6 M1084.7,1216.5 L1080.9,1235.5 M1087.5,1216.5 L1083.2,1235.5 M1090.3,1216.5 L1085.5,1235.5 M1093.0,1216.7 L1087.7,1235.6 M1095.8,1216.9 L1090.0,1235.8 M1098.5,1217.1 L1092.2,1236.0 M1101.3,1217.5 L1094.4,1236.2 M1104.0,1217.9 L1096.7,1236.6 M1106.7,1218.4 L1098.9,1236.9 M1109.4,1219.0 L1101.1,1237.4 M1112.1,1219.7 L1103.3,1237.9 M1114.8,1220.4 L1105.4,1238.4 M1117.4,1221.2 L1107.6,1239.0 M1120.0,1222.1 L1109.7,1239.7 M1122.6,1223.1 L1111.8,1240.4 M1125.2,1224.1 L1113.9,1241.2 M1127.7,1225.2 L1115.9,1242.0 M1130.1,1226.4 L1117.9,1242.8 M1132.6,1227.6 L1119.9,1243.8 M1135.0,1229.0 L1121.9,1244.8 M1137.4,1230.3 L1123.8,1245.8 M1139.7,1231.8 L1125.7,1246.9 M1142.0,1233.3 L1127.6,1248.0 M1144.2,1234.9 L1129.4,1249.2 M1146.4,1236.5 L1131.1,1250.4 M1148.5,1238.2 L1132.9,1251.6 M1150.5,1240.0 L1134.6,1253.0 M1152.6,1241.8 L1136.2,1254.3 M1154.5,1243.7 L1137.8,1255.7 M1156.4,1245.6 L1139.3,1257.1 M1158.3,1247.6 L1140.8,1258.6 M1160.0,1249.6 L1142.3,1260.1 M1161.7,1251.7 L1143.7,1261.7 M1163.4,1253.9 L1145.0,1263.3 M1165.0,1256.0 L1146.3,1264.9 M1166.5,1258.3 L1147.5,1266.5 M1175.1,1274.9 L1154.5,1278.9 M1176.0,1277.4 L1155.3,1280.8 M1176.8,1279.9 L1156.0,1282.6 M1177.6,1282.5 L1156.6,1284.5 M1178.3,1285.1 L1157.2,1286.5 M1178.9,1287.6 L1157.7,1288.4 M1179.4,1290.3 L1158.1,1290.3 M1179.9,1292.9 L1158.5,1292.3 M1180.2,1295.5 L1158.8,1294.2 M1180.5,1298.1 L1159.0,1296.2 M1180.7,1300.8 L1159.2,1298.2 M1180.9,1303.4 L1159.3,1300.1"/>
<ellipse cx="1087.5" cy="1306.1" rx="93.4" ry="89.6" stroke="#111" stroke-width="1.6" fill="none"/>
<ellipse cx="1083.2" cy="1302.1" rx="76.1" ry="66.6" stroke="#111" stroke-width="1.6" fill="none"/>
<ellipse cx="1085.3" cy="1304.1" rx="84.8" ry="78.1" stroke="#111" stroke-width="1" fill="none"/>
<path fill="#fff" stroke="none" d="M1043.3,1225.7 L1058.6,1219.5 L1059.8,1240.2 L1047.8,1244.6 Z"/>
<path fill="#fff" stroke="#111" stroke-width="1.2" d="M1044.7,1231.6 L1058.9,1225.9 L1059.4,1234.3 L1046.5,1239.2 Z"/>
<path stroke="#111" stroke-width="1.5" d="M1043.7,1227.0 L1047.5,1243.3"/>
<path stroke="#111" stroke-width="1.5" d="M1058.6,1220.9 L1059.7,1238.8"/>
<circle cx="1052.2" cy="1232.2" r="1.3" stroke="#111" stroke-width="1" fill="none"/>
<path fill="#fff" stroke="none" d="M1168.2,1258.0 L1175.7,1272.2 L1152.1,1277.5 L1146.2,1267.5 Z"/>
<path fill="#fff" stroke="#111" stroke-width="1.2" d="M1161.4,1260.9 L1168.4,1273.8 L1158.8,1276.0 L1152.5,1264.8 Z"/>
<path stroke="#111" stroke-width="1.5" d="M1166.7,1258.6 L1147.7,1266.8"/>
<path stroke="#111" stroke-width="1.5" d="M1174.1,1272.5 L1153.8,1277.2"/>
<circle cx="1160.9" cy="1268.6" r="1.3" stroke="#111" stroke-width="1" fill="none"/>
<g id="s2front">
<g transform="translate(950,1040) scale(0.17301)" stroke="#111" fill="#fff" stroke-width="1.8">
<path d="M60,640 Q65,600 110,610 L1285,240 Q1345,235 1350,290 L1340,320 L1140,388 L1140,610 L390,870 L410,640 L110,735 Q60,735 60,680 Z"/>
<path fill="none" d="M110,735 L1340,320 M360,545 L410,635 M1055,320 L1110,400"/>
<ellipse fill="none" cx="272" cy="622" rx="22" ry="15"/><ellipse fill="none" cx="1168" cy="322" rx="22" ry="15"/>
<path d="M850,740 L1120,915 L1105,2351 L1045,2376 L975,2056 Z"/>
<path fill="none" d="M995,975 L1045,2376"/>
<path d="M430,95 Q440,40 550,55 L1120,910 Q1120,960 995,972 L865,1000 L700,760 L695,540 L530,240 L430,95 Z"/>
<path fill="none" d="M430,95 L530,240 L850,740 L995,972 M530,240 L640,210 M850,740 L970,700"/>
<ellipse fill="none" cx="538" cy="158" rx="22" ry="15"/><ellipse fill="none" cx="970" cy="800" rx="22" ry="15"/>
</g>
</g>
<g transform="translate(950,1040) scale(0.17301)" stroke="#111" fill="#fff" stroke-width="1.8"><path stroke="#222" stroke-width="6.00622" stroke-linecap="round" d="M709,1352 L645,1241"/><ellipse fill="#fff" stroke="#222" stroke-width="1.2" cx="720" cy="1371" rx="18" ry="30" transform="rotate(-120.0 720 1371)"/><circle fill="none" stroke="#222" stroke-width="1" cx="720" cy="1371" r="12"/><path stroke="#222" stroke-width="6.00622" stroke-linecap="round" d="M884,1450 L905,1445"/><ellipse fill="#fff" stroke="#222" stroke-width="1.2" cx="880" cy="1451" rx="16" ry="28" transform="rotate(-13.5 880 1451)"/><circle fill="none" stroke="#222" stroke-width="1" cx="880" cy="1451" r="11"/><path stroke="#222" stroke-width="6.00622" stroke-linecap="round" d="M519,1572 L400,1636"/><ellipse fill="#fff" stroke="#222" stroke-width="1.2" cx="540" cy="1561" rx="18" ry="30" transform="rotate(151.8 540 1561)"/><circle fill="none" stroke="#222" stroke-width="1" cx="540" cy="1561" r="12"/><path stroke="#222" stroke-width="6.00622" stroke-linecap="round" d="M859,1721 L940,1836"/><ellipse fill="#fff" stroke="#222" stroke-width="1.2" cx="845" cy="1701" rx="18" ry="30" transform="rotate(54.9 845 1701)"/><circle fill="none" stroke="#222" stroke-width="1" cx="845" cy="1701" r="12"/><path fill="none" stroke-width="1" stroke-dasharray="3 2.5" d="M640,1236 L600,1156 M395,1641 L300,1671 M1120,1351 L1190,1326"/></g>
<use href="#s2back" transform="translate(-393.5,915) scale(0.713)"/>
<path fill="#e2e2e2" fill-rule="evenodd" stroke="none" d="M315.3,1846.2 a66.6,63.9 0 1,0 133.2,0 a66.6,63.9 0 1,0 -133.2,0 Z M324.6,1843.4 a54.3,47.5 0 1,0 108.5,0 a54.3,47.5 0 1,0 -108.5,0 Z"/>
<path stroke="#111" stroke-width="1.4" fill="none" d="M448.5,1846.2 L433.1,1843.4 M448.4,1848.8 L433.0,1845.3 M448.3,1851.4 L432.9,1847.2 M448.0,1853.9 L432.7,1849.1 M447.6,1856.4 L432.4,1851.0 M447.2,1858.9 L432.0,1852.8 M446.6,1861.4 L431.5,1854.7 M445.9,1863.9 L431.0,1856.5 M445.1,1866.4 L430.3,1858.3 M444.2,1868.8 L429.6,1860.1 M443.2,1871.1 L428.8,1861.9 M442.1,1873.5 L427.9,1863.6 M440.9,1875.8 L426.9,1865.3 M439.7,1878.0 L425.9,1867.0 M438.3,1880.2 L424.8,1868.6 M436.8,1882.3 L423.6,1870.2 M435.3,1884.4 L422.3,1871.8 M433.7,1886.4 L421.0,1873.3 M431.9,1888.4 L419.6,1874.7 M430.1,1890.3 L418.1,1876.1 M428.3,1892.1 L416.6,1877.5 M426.3,1893.8 L415.0,1878.8 M424.3,1895.5 L413.4,1880.0 M422.2,1897.1 L411.7,1881.2 M420.1,1898.6 L409.9,1882.3 M417.8,1900.0 L408.1,1883.4 M415.6,1901.4 L406.3,1884.4 M413.2,1902.6 L404.4,1885.3 M410.9,1903.8 L402.4,1886.2 M408.4,1904.8 L400.5,1886.9 M406.0,1905.8 L398.5,1887.7 M403.5,1906.7 L396.4,1888.3 M400.9,1907.5 L394.3,1888.9 M398.4,1908.1 L392.3,1889.4 M395.8,1908.7 L390.1,1889.8 M393.2,1909.2 L388.0,1890.2 M390.5,1909.6 L385.9,1890.5 M387.9,1909.9 L383.7,1890.7 M385.2,1910.1 L381.5,1890.8 M382.6,1910.1 L379.4,1890.9 M379.9,1910.1 L377.2,1890.9 M377.2,1910.0 L375.0,1890.8 M374.6,1909.7 L372.9,1890.6 M371.9,1909.4 L370.7,1890.3 M369.3,1909.0 L368.6,1890.0 M366.7,1908.5 L366.4,1889.6 M364.1,1907.8 L364.3,1889.2 M361.6,1907.1 L362.3,1888.6 M359.0,1906.3 L360.2,1888.0 M356.6,1905.3 L358.2,1887.3 M354.1,1904.3 L356.2,1886.6 M351.7,1903.2 L354.2,1885.7 M349.4,1902.0 L352.3,1884.8 M347.1,1900.7 L350.4,1883.9 M344.8,1899.3 L348.6,1882.8 M342.6,1897.9 L346.8,1881.8 M340.5,1896.3 L345.1,1880.6 M338.5,1894.7 L343.4,1879.4 M336.5,1893.0 L341.8,1878.1 M334.6,1891.2 L340.3,1876.8 M332.7,1889.3 L338.8,1875.4 M331.0,1887.4 L337.3,1874.0 M329.3,1885.4 L336.0,1872.5 M327.7,1883.4 L334.7,1871.0 M326.2,1881.3 L333.4,1869.4 M324.8,1879.1 L332.3,1867.8 M323.5,1876.9 L331.2,1866.2 M322.2,1874.6 L330.2,1864.5 M321.1,1872.3 L329.3,1862.8 M316.9,1860.2 L325.9,1853.8 M316.4,1857.7 L325.4,1851.9 M315.9,1855.2 L325.1,1850.0 M315.6,1852.6 L324.8,1848.1 M315.4,1850.1 L324.7,1846.2 M315.3,1847.5 L324.6,1844.3 M315.3,1845.0 L324.6,1842.4 M315.4,1842.4 L324.7,1840.5 M315.6,1839.9 L324.8,1838.7 M315.9,1837.3 L325.1,1836.8 M316.4,1834.8 L325.4,1834.9 M316.9,1832.3 L325.9,1833.0 M317.5,1829.8 L326.4,1831.2 M318.3,1827.4 L327.0,1829.4 M319.1,1824.9 L327.7,1827.6 M320.0,1822.5 L328.4,1825.8 M321.1,1820.2 L329.3,1824.0 M322.2,1817.9 L330.2,1822.3 M323.5,1815.6 L331.2,1820.6 M324.8,1813.4 L332.3,1819.0 M326.2,1811.2 L333.4,1817.4 M327.7,1809.1 L334.7,1815.8 M329.3,1807.1 L336.0,1814.3 M331.0,1805.1 L337.3,1812.8 M332.7,1803.2 L338.8,1811.4 M334.6,1801.3 L340.3,1810.0 M336.5,1799.5 L341.8,1808.7 M338.5,1797.8 L343.4,1807.4 M340.5,1796.2 L345.1,1806.2 M342.6,1794.6 L346.8,1805.0 M344.8,1793.2 L348.6,1803.9 M347.1,1791.8 L350.4,1802.9 M349.4,1790.5 L352.3,1802.0 M361.6,1785.4 L362.3,1798.2 M364.1,1784.7 L364.3,1797.6 M366.7,1784.0 L366.4,1797.2 M369.3,1783.5 L368.6,1796.8 M371.9,1783.1 L370.7,1796.4 M374.6,1782.8 L372.9,1796.2 M377.2,1782.5 L375.0,1796.0 M379.9,1782.4 L377.2,1795.9 M382.6,1782.4 L379.4,1795.9 M385.2,1782.4 L381.5,1796.0 M387.9,1782.6 L383.7,1796.1 M390.5,1782.9 L385.9,1796.3 M393.2,1783.3 L388.0,1796.6 M395.8,1783.8 L390.1,1797.0 M398.4,1784.4 L392.3,1797.4 M400.9,1785.0 L394.3,1797.9 M403.5,1785.8 L396.4,1798.5 M406.0,1786.7 L398.5,1799.1 M408.4,1787.7 L400.5,1799.9 M410.9,1788.7 L402.4,1800.6 M413.2,1789.9 L404.4,1801.5 M415.6,1791.1 L406.3,1802.4 M417.8,1792.5 L408.1,1803.4 M420.1,1793.9 L409.9,1804.5 M422.2,1795.4 L411.7,1805.6 M424.3,1797.0 L413.4,1806.8 M426.3,1798.7 L415.0,1808.0 M428.3,1800.4 L416.6,1809.3 M430.1,1802.2 L418.1,1810.7 M431.9,1804.1 L419.6,1812.1 M433.7,1806.1 L421.0,1813.5 M435.3,1808.1 L422.3,1815.0 M436.8,1810.2 L423.6,1816.6 M438.3,1812.3 L424.8,1818.2 M444.2,1823.7 L429.6,1826.7 M445.1,1826.1 L430.3,1828.5 M445.9,1828.6 L431.0,1830.3 M446.6,1831.1 L431.5,1832.1 M447.2,1833.6 L432.0,1834.0 M447.6,1836.1 L432.4,1835.8 M448.0,1838.6 L432.7,1837.7 M448.3,1841.1 L432.9,1839.6 M448.4,1843.7 L433.0,1841.5"/>
<ellipse cx="381.9" cy="1846.2" rx="66.6" ry="63.9" stroke="#111" stroke-width="1.6" fill="none"/>
<ellipse cx="378.8" cy="1843.4" rx="54.3" ry="47.5" stroke="#111" stroke-width="1.6" fill="none"/>
<ellipse cx="380.4" cy="1844.8" rx="60.4" ry="55.7" stroke="#111" stroke-width="1" fill="none"/>
<path fill="#fff" stroke="none" d="M350.4,1788.9 L361.2,1784.5 L362.1,1799.3 L353.6,1802.4 Z"/>
<path fill="#fff" stroke="#111" stroke-width="1.2" d="M351.4,1793.1 L361.5,1789.1 L361.9,1795.0 L352.7,1798.6 Z"/>
<path stroke="#111" stroke-width="1.5" d="M350.6,1789.8 L353.3,1801.5"/>
<path stroke="#111" stroke-width="1.5" d="M361.3,1785.5 L362.1,1798.2"/>
<path fill="#fff" stroke="none" d="M439.4,1811.9 L444.8,1822.1 L428.0,1825.9 L423.8,1818.7 Z"/>
<path fill="#fff" stroke="#111" stroke-width="1.2" d="M434.6,1814.0 L439.6,1823.2 L432.8,1824.8 L428.2,1816.8 Z"/>
<path stroke="#111" stroke-width="1.5" d="M438.4,1812.4 L424.8,1818.2"/>
<path stroke="#111" stroke-width="1.5" d="M443.6,1822.3 L429.1,1825.6"/>
<use href="#s2front" transform="translate(-393.5,915) scale(0.713)"/>
<g id="sw3" transform="translate(270,1550) scale(0.13841)" stroke="#111" fill="#fff" stroke-width="1.8">
<path d="M508.6,495.1 Q525.0,470.0 554.5,475.7 L1165.5,594.3 Q1195.0,600.0 1184.2,628.0 L1050.8,972.0 Q1040.0,1000.0 1010.3,995.7 L284.7,889.3 Q255.0,885.0 271.4,859.9 Z"/>
<path fill="none" stroke-width="3.5" d="M555,498 L578,512 M1118,618 L1142,632 M315,880 L345,868 M930,990 L955,1010"/>
<path d="M827.1,432.1 Q860.0,420.0 886.1,443.3 L1258.9,776.7 Q1285.0,800.0 1253.0,814.1 L657.0,1075.9 Q625.0,1090.0 601.2,1064.4 L243.8,680.6 Q220.0,655.0 252.9,642.9 Z"/>
<path fill="none" stroke-width="4" d="M288,655 L358,675 M830,492 L860,462 M1140,782 L1220,800 M615,1045 L652,995"/>
<path fill="none" stroke-width="1.7" stroke="#fff" d="M292,656 L354,674 M833,488 L857,466 M1144,783 L1216,799 M618,1040 L649,999"/>
<ellipse cx="745" cy="738" rx="340" ry="214" fill="none"/>
<ellipse cx="748" cy="742" rx="318" ry="196" fill="none"/>
<ellipse cx="750" cy="735" rx="250" ry="155" fill="none"/>
<ellipse cx="745" cy="733" rx="62" ry="40" fill="none" stroke-width="2.2"/>
<ellipse cx="745" cy="733" rx="40" ry="26" fill="none"/>
<ellipse cx="745" cy="733" rx="20" ry="12" fill="none"/>
</g>
<g transform="translate(270,1550) scale(0.13841)" stroke="#111" fill="#fff" stroke-width="1.8">
<g fill="none" stroke-width="1.5" stroke-dasharray="4.5 3.5">
<path d="M90,560 L90,680 L320,790 L335,1228 M555,330 L560,440 M1125,470 L1125,600 M1350,590 L1345,640 L1200,720 L960,860 L955,1228 M1135,880 L1135,1040"/>
</g>
<path stroke="#222" stroke-width="4.2" d="M90,395 L93,540"/><ellipse fill="#fff" stroke="#222" stroke-width="1.3" cx="90" cy="380" rx="38" ry="22"/><ellipse fill="none" stroke="#222" stroke-width="1" cx="90" cy="380" rx="15" ry="8"/><path stroke="#222" stroke-width="4.2" d="M545,175 L548,320"/><ellipse fill="#fff" stroke="#222" stroke-width="1.3" cx="545" cy="160" rx="38" ry="22"/><ellipse fill="none" stroke="#222" stroke-width="1" cx="545" cy="160" rx="15" ry="8"/><path stroke="#222" stroke-width="4.2" d="M1115,305 L1118,455"/><ellipse fill="#fff" stroke="#222" stroke-width="1.3" cx="1115" cy="290" rx="38" ry="22"/><ellipse fill="none" stroke="#222" stroke-width="1" cx="1115" cy="290" rx="15" ry="8"/><path stroke="#222" stroke-width="4.2" d="M1345,415 L1348,565"/><ellipse fill="#fff" stroke="#222" stroke-width="1.3" cx="1345" cy="400" rx="38" ry="22"/><ellipse fill="none" stroke="#222" stroke-width="1" cx="1345" cy="400" rx="15" ry="8"/>
<path fill="none" stroke-width="1.1" stroke="#444" d="M1100,190 L1098,45 Q1100,28 1125,32 L1445,210 L1440,240 L1130,70 L1130,195 Z M1112,40 L1440,225"/>
</g>
<use href="#s2back" transform="translate(311.4,1074.4) scale(0.592)"/>
<path fill="#e2e2e2" fill-rule="evenodd" stroke="none" d="M899.9,1847.6 a55.3,53.0 0 1,0 110.6,0 a55.3,53.0 0 1,0 -110.6,0 Z M907.6,1845.2 a45.1,39.4 0 1,0 90.1,0 a45.1,39.4 0 1,0 -90.1,0 Z"/>
<path stroke="#111" stroke-width="1.4" fill="none" d="M1010.5,1847.6 L997.7,1845.2 M1010.4,1850.1 L997.7,1847.1 M1010.3,1852.5 L997.5,1848.9 M1010.0,1854.9 L997.3,1850.7 M1009.6,1857.4 L996.9,1852.5 M1009.0,1859.8 L996.5,1854.3 M1008.4,1862.1 L996.0,1856.0 M1007.6,1864.5 L995.4,1857.8 M1006.8,1866.8 L994.7,1859.5 M1005.8,1869.0 L993.9,1861.2 M1004.7,1871.3 L993.0,1862.8 M1003.5,1873.4 L992.0,1864.4 M1002.2,1875.5 L991.0,1866.0 M1000.8,1877.6 L989.8,1867.5 M999.3,1879.6 L988.6,1869.0 M997.7,1881.5 L987.3,1870.4 M996.1,1883.3 L985.9,1871.8 M994.3,1885.1 L984.5,1873.1 M992.5,1886.8 L983.0,1874.4 M990.5,1888.4 L981.4,1875.6 M988.5,1889.9 L979.8,1876.7 M986.4,1891.4 L978.1,1877.8 M984.3,1892.7 L976.4,1878.8 M982.1,1894.0 L974.6,1879.7 M979.8,1895.1 L972.7,1880.5 M977.5,1896.1 L970.9,1881.3 M975.2,1897.1 L968.9,1882.0 M972.8,1897.9 L967.0,1882.6 M970.3,1898.6 L965.0,1883.2 M967.9,1899.2 L963.0,1883.6 M965.4,1899.8 L960.9,1884.0 M962.8,1900.1 L958.9,1884.3 M960.3,1900.4 L956.8,1884.5 M957.8,1900.6 L954.7,1884.6 M955.2,1900.7 L952.7,1884.7 M952.6,1900.6 L950.6,1884.6 M950.1,1900.4 L948.5,1884.5 M947.6,1900.1 L946.4,1884.3 M945.0,1899.8 L944.4,1884.0 M942.5,1899.2 L942.3,1883.6 M940.1,1898.6 L940.3,1883.2 M937.6,1897.9 L938.3,1882.6 M935.2,1897.1 L936.4,1882.0 M932.9,1896.1 L934.5,1881.3 M930.6,1895.1 L932.6,1880.5 M928.3,1894.0 L930.7,1879.7 M926.1,1892.7 L928.9,1878.8 M924.0,1891.4 L927.2,1877.8 M921.9,1889.9 L925.5,1876.7 M919.9,1888.4 L923.9,1875.6 M917.9,1886.8 L922.3,1874.4 M916.1,1885.1 L920.8,1873.1 M914.3,1883.3 L919.4,1871.8 M912.7,1881.5 L918.0,1870.4 M911.1,1879.6 L916.7,1869.0 M909.6,1877.6 L915.5,1867.5 M908.2,1875.5 L914.4,1866.0 M906.9,1873.4 L913.3,1864.4 M905.7,1871.3 L912.3,1862.8 M904.6,1869.0 L911.4,1861.2 M901.4,1859.8 L908.8,1854.3 M900.8,1857.4 L908.4,1852.5 M900.4,1854.9 L908.0,1850.7 M900.1,1852.5 L907.8,1848.9 M900.0,1850.1 L907.7,1847.1 M899.9,1847.6 L907.6,1845.2 M900.0,1845.2 L907.7,1843.4 M900.1,1842.7 L907.8,1841.6 M900.4,1840.3 L908.0,1839.8 M900.8,1837.9 L908.4,1838.0 M901.4,1835.5 L908.8,1836.2 M902.0,1833.1 L909.3,1834.5 M902.8,1830.8 L909.9,1832.7 M903.6,1828.4 L910.6,1831.0 M904.6,1826.2 L911.4,1829.3 M905.7,1824.0 L912.3,1827.7 M906.9,1821.8 L913.3,1826.1 M908.2,1819.7 L914.4,1824.5 M909.6,1817.6 L915.5,1823.0 M911.1,1815.6 L916.7,1821.5 M912.7,1813.7 L918.0,1820.1 M914.3,1811.9 L919.4,1818.7 M916.1,1810.1 L920.8,1817.4 M917.9,1808.4 L922.3,1816.1 M919.9,1806.8 L923.9,1814.9 M921.9,1805.3 L925.5,1813.8 M924.0,1803.9 L927.2,1812.7 M926.1,1802.5 L928.9,1811.7 M928.3,1801.3 L930.7,1810.8 M940.1,1796.6 L940.3,1807.3 M942.5,1796.0 L942.3,1806.9 M945.0,1795.5 L944.4,1806.5 M947.6,1795.1 L946.4,1806.2 M950.1,1794.8 L948.5,1806.0 M952.6,1794.6 L950.6,1805.9 M955.2,1794.6 L952.7,1805.8 M957.8,1794.6 L954.7,1805.9 M960.3,1794.8 L956.8,1806.0 M962.8,1795.1 L958.9,1806.2 M965.4,1795.5 L960.9,1806.5 M967.9,1796.0 L963.0,1806.9 M970.3,1796.6 L965.0,1807.3 M972.8,1797.3 L967.0,1807.9 M975.2,1798.1 L968.9,1808.5 M977.5,1799.1 L970.9,1809.2 M979.8,1800.1 L972.7,1809.9 M982.1,1801.3 L974.6,1810.8 M984.3,1802.5 L976.4,1811.7 M986.4,1803.9 L978.1,1812.7 M988.5,1805.3 L979.8,1813.8 M990.5,1806.8 L981.4,1814.9 M992.5,1808.4 L983.0,1816.1 M994.3,1810.1 L984.5,1817.4 M996.1,1811.9 L985.9,1818.7 M997.7,1813.7 L987.3,1820.1 M999.3,1815.6 L988.6,1821.5 M1000.8,1817.6 L989.8,1823.0 M1006.8,1828.4 L994.7,1831.0 M1007.6,1830.8 L995.4,1832.7 M1008.4,1833.1 L996.0,1834.5 M1009.0,1835.5 L996.5,1836.2 M1009.6,1837.9 L996.9,1838.0 M1010.0,1840.3 L997.3,1839.8 M1010.3,1842.7 L997.5,1841.6 M1010.4,1845.2 L997.7,1843.4"/>
<ellipse cx="955.2" cy="1847.6" rx="55.3" ry="53.0" stroke="#111" stroke-width="1.6" fill="none"/>
<ellipse cx="952.7" cy="1845.2" rx="45.1" ry="39.4" stroke="#111" stroke-width="1.6" fill="none"/>
<ellipse cx="953.9" cy="1846.4" rx="50.2" ry="46.2" stroke="#111" stroke-width="1" fill="none"/>
<path fill="#fff" stroke="none" d="M929.1,1800.0 L938.1,1796.3 L938.8,1808.6 L931.7,1811.2 Z"/>
<path fill="#fff" stroke="#111" stroke-width="1.2" d="M929.9,1803.5 L938.3,1800.1 L938.6,1805.1 L930.9,1808.0 Z"/>
<path stroke="#111" stroke-width="1.5" d="M929.2,1800.8 L931.5,1810.4"/>
<path stroke="#111" stroke-width="1.5" d="M938.1,1797.2 L938.7,1807.7"/>
<path fill="#fff" stroke="none" d="M1003.0,1819.1 L1007.4,1827.5 L993.5,1830.7 L990.0,1824.7 Z"/>
<path fill="#fff" stroke="#111" stroke-width="1.2" d="M998.9,1820.9 L1003.1,1828.5 L997.4,1829.8 L993.7,1823.1 Z"/>
<path stroke="#111" stroke-width="1.5" d="M1002.1,1819.5 L990.9,1824.3"/>
<path stroke="#111" stroke-width="1.5" d="M1006.5,1827.7 L994.4,1830.5"/>
<use href="#s2front" transform="translate(311.4,1074.4) scale(0.592)"/>
<use href="#sw3" transform="translate(633.1,336.2) scale(0.845)"/>
<use href="#seatA" transform="translate(724.4,1285.5)"/>
<path stroke="#333" stroke-width="1" stroke-dasharray="3 2.5" fill="none" d="M896,1677 L896,1718 M934.8,1684 L934.8,1705 M960.4,1684 L960.4,1700 M999.2,1680 L999.2,1716"/>
<path stroke="#333" stroke-width="5" d="M857.6,1772.6 L857.6,1748.6"/><path stroke="#fff" stroke-width="1" stroke-dasharray="0.8 1.6" d="M857.6,1771.6 L857.6,1749.6"/><ellipse cx="857.6" cy="1775.6" rx="7.6" ry="5.2" fill="#fff" stroke="#222" stroke-width="1.3"/><ellipse cx="857.6" cy="1776.1" rx="2.2" ry="1.5" fill="none" stroke="#222" stroke-width="0.8"/>
<path stroke="#333" stroke-width="5" d="M855.8,1861.6 L855.8,1836.7"/><path stroke="#fff" stroke-width="1" stroke-dasharray="0.8 1.6" d="M855.8,1860.6 L855.8,1837.7"/><ellipse cx="855.8" cy="1864.6" rx="7.6" ry="5.2" fill="#fff" stroke="#222" stroke-width="1.3"/><ellipse cx="855.8" cy="1865.1" rx="2.2" ry="1.5" fill="none" stroke="#222" stroke-width="0.8"/>
<path stroke="#333" stroke-width="5" d="M1038.4,1762.7 L1038.4,1737.8"/><path stroke="#fff" stroke-width="1" stroke-dasharray="0.8 1.6" d="M1038.4,1761.7 L1038.4,1738.8"/><ellipse cx="1038.4" cy="1765.7" rx="7.6" ry="5.2" fill="#fff" stroke="#222" stroke-width="1.3"/><ellipse cx="1038.4" cy="1766.2" rx="2.2" ry="1.5" fill="none" stroke="#222" stroke-width="0.8"/>
<path stroke="#333" stroke-width="5" d="M1053.7,1838.2 L1053.7,1813.4"/><path stroke="#fff" stroke-width="1" stroke-dasharray="0.8 1.6" d="M1053.7,1837.2 L1053.7,1814.4"/><ellipse cx="1053.7" cy="1841.2" rx="7.6" ry="5.2" fill="#fff" stroke="#222" stroke-width="1.3"/><ellipse cx="1053.7" cy="1841.7" rx="2.2" ry="1.5" fill="none" stroke="#222" stroke-width="0.8"/>
<path stroke="#333" stroke-width="1" stroke-dasharray="3 2.5" fill="none" d="M859.5,1746 L891,1733 M857.5,1834 L926,1786 M1039,1734 L981,1708 M1054,1811 L998,1752"/>
<path fill="#111" d="M1067.7,1728.8 L1121,1728.8 L1121,1719.1 L1150,1736.1 L1121,1753 L1121,1743.4 L1067.7,1743.4 Z"/>
<g transform="translate(1150,1660) scale(0.14533)" stroke="#111" fill="#fff" stroke-width="2.2">
<path d="M873,154 L900,1415 L820,1410 L684,170 L749,125 L939,150"/>
<path fill="none" d="M759,133 L838,963 L850,1412 M820,150 L873,963 L880,1413"/>
<path d="M393,49 L110,1550 L205,1560 L498,138"/>
<path fill="none" d="M498,134 L570,142 M518,138 L364,850"/>
<path d="M1080,40 L1340,1690 L1225,1680 L939,150"/>
<path fill="none" d="M1040,48 L1318,1686"/>
</g><defs><pattern id="hatchV" patternUnits="userSpaceOnUse" width="2.6" height="10" patternTransform="rotate(12)"><rect x="0" y="0" width="1.05" height="10" fill="#111"/></pattern></defs><path fill="url(#hatchV)" fill-rule="evenodd" stroke="#111" stroke-width="1.6" d="M1189.3,1806.1 a61.3,25.4 0 1,0 122.6,0 a61.3,25.4 0 1,0 -122.6,0 Z M1211.1,1806.8 a44.3,10.2 0 1,0 88.6,0 a44.3,10.2 0 1,0 -88.6,0 Z"/><path fill="none" stroke="#111" stroke-width="1.2" d="M1193,1812 Q1250,1835 1308,1812"/><path fill="#fff" stroke="#111" stroke-width="1.2" d="M1262,1784 L1277,1787 L1273,1797 L1259,1794 Z"/><circle cx="1268" cy="1790" r="1.3" fill="#111"/><g transform="translate(1150,1660) scale(0.14533)" stroke="#111" fill="#fff" stroke-width="2.2">
<path d="M583,73 L500,1830 L590,1840 L664,97"/>
<path fill="none" d="M667,96 L692,77"/>
</g>
<use href="#seatA" transform="translate(1033.6,1287.3) scale(0.97)"/>
</g>
</svg>
</body></html>
